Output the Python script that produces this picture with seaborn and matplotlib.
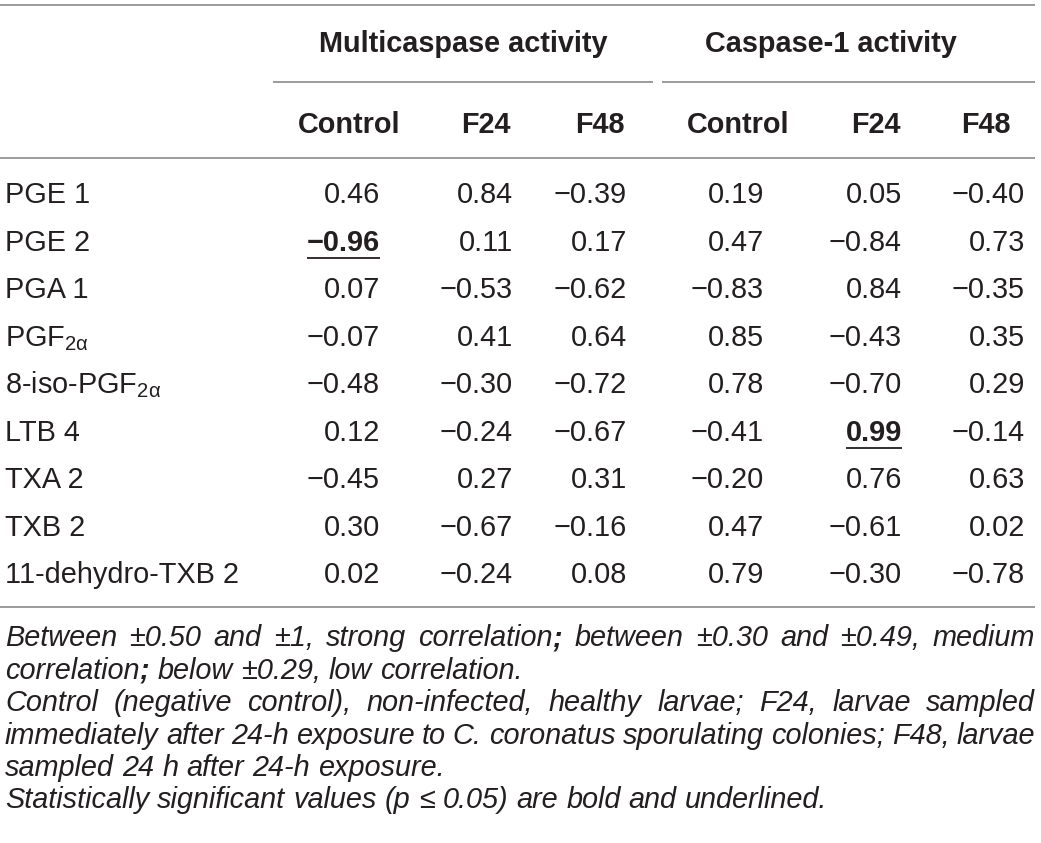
import matplotlib
matplotlib.use("Agg")
import matplotlib.pyplot as plt
import seaborn as sns

# ---- table content ----
compounds = ["PGE 1", "PGE 2", "PGA 1", r"PGF$_{\mathrm{2α}}$", r"8-iso-PGF$_{\mathrm{2α}}$",
             "LTB 4", "TXA 2", "TXB 2", "11-dehydro-TXB 2"]
group_titles = ["Multicaspase activity", "Caspase-1 activity"]
treatments = ["Control", "F24", "F48", "Control", "F24", "F48"]

multi_control = [0.46, -0.96, 0.07, -0.07, -0.48, 0.12, -0.45, 0.30, 0.02]
multi_f24 = [0.84, 0.11, -0.53, 0.41, -0.30, -0.24, 0.27, -0.67, -0.24]
multi_f48 = [-0.39, 0.17, -0.62, 0.64, -0.72, -0.67, 0.31, -0.16, 0.08]
casp_control = [0.19, 0.47, -0.83, 0.85, 0.78, -0.41, -0.20, 0.47, 0.79]
casp_f24 = [0.05, -0.84, 0.84, -0.43, -0.70, 0.99, 0.76, -0.61, -0.30]
casp_f48 = [-0.40, 0.73, -0.35, 0.35, 0.29, -0.14, 0.63, 0.02, -0.78]
columns = [multi_control, multi_f24, multi_f48, casp_control, casp_f24, casp_f48]

# (row, column) of values with p <= 0.05 -> bold + underlined
significant = [(1, 0), (5, 4)]

# footnote lines: (text, justified, bold semicolon)
notes = [
    ("Between ±0.50 and ±1, strong correlation; between ±0.30 and ±0.49, medium", True, True),
    ("correlation; below ±0.29, low correlation.", False, True),
    ("Control (negative control), non-infected, healthy larvae; F24, larvae sampled", True, False),
    ("immediately after 24-h exposure to C. coronatus sporulating colonies; F48, larvae", True, False),
    ("sampled 24 h after 24-h exposure.", False, False),
    ("Statistically significant values (p ≤ 0.05) are bold and underlined.", False, False),
]

# ---- layout (pixel coordinates) ----
value_right = [380, 513, 627, 764, 902, 1025]
header_center = [349, 486, 600, 738, 876, 986]
group_center = [463, 831]
group_span = [(273, 653), (662, 1035)]
first_row, row_step = 193, 47.5
note_first, note_step = 636, 32.4
FS = 20.8
ink = "#231f20"
rule = "#8a8a8a"

sns.set_theme(style="white")
plt.rcParams["font.family"] = ["Liberation Sans", "DejaVu Sans"]
plt.rcParams["mathtext.fontset"] = "custom"
plt.rcParams["mathtext.rm"] = "Liberation Sans"
plt.rcParams["mathtext.it"] = "Liberation Sans:italic"
plt.rcParams["mathtext.bf"] = "Liberation Sans:bold"

fig = plt.figure(figsize=(10.41, 8.43), dpi=100)
ax = fig.add_axes([0, 0, 1, 1])
ax.set_xlim(0, 1041)
ax.set_ylim(843, 0)
ax.axis("off")
r = fig.canvas.get_renderer()
inv = ax.transData.inverted()


def width_of(artist):
    bb = artist.get_window_extent(r).transformed(inv)
    return abs(bb.x1 - bb.x0), bb


# rules
ax.hlines([5, 158, 607], 0, 1035, color=rule, lw=1.2)
for x0, x1 in group_span:
    ax.hlines(82, x0, x1, color=rule, lw=1.2)

# headers
for title, xc in zip(group_titles, group_center):
    ax.text(xc, 42 + 10.4, title, ha="center", va="baseline", fontsize=FS,
            fontweight="bold", color=ink)
for name, xc in zip(treatments, header_center):
    ax.text(xc, 123 + 10.4, name, ha="center", va="baseline", fontsize=FS,
            fontweight="bold", color=ink)

# body
for i, label in enumerate(compounds):
    y = first_row + i * row_step
    ax.text(5, y + 10.4, label, ha="left", va="baseline", fontsize=FS, color=ink)
    for j, col in enumerate(columns):
        sig = (i, j) in significant
        txt = f"{col[i]:.2f}".replace("-", "−")
        t = ax.text(value_right[j], y + 10.4, txt, ha="right", va="baseline",
                    fontsize=FS, color=ink, fontweight="bold" if sig else "normal")
        if sig:
            _, bb = width_of(t)
            ax.hlines(y + 17.5, bb.x0, bb.x1, color=ink, lw=1.3)


# footnotes
def draw_line(text, y, justify, bold_semi):
    words = text.split(" ")
    pieces = []
    for w in words:
        if bold_semi and w.endswith(";"):
            segs = [(w[:-1], "normal"), (";", "bold")]
        else:
            segs = [(w, "normal")]
        arts = [ax.text(0, y, s, ha="left", va="baseline", fontsize=FS,
                        fontstyle="italic", fontweight=wt, color=ink) for s, wt in segs]
        ws = [width_of(a)[0] for a in arts]
        pieces.append((arts, ws))
    total = sum(sum(ws) for _, ws in pieces)
    gap = (1035 - 5 - total) / (len(pieces) - 1) if justify else FS * 0.39
    x = 5
    for arts, ws in pieces:
        for a, w in zip(arts, ws):
            a.set_x(x)
            x += w
        x += gap


for k, (text, justify, bold_semi) in enumerate(notes):
    draw_line(text, note_first + k * note_step + 10.4, justify, bold_semi)

fig.savefig("out.png", dpi=100)
